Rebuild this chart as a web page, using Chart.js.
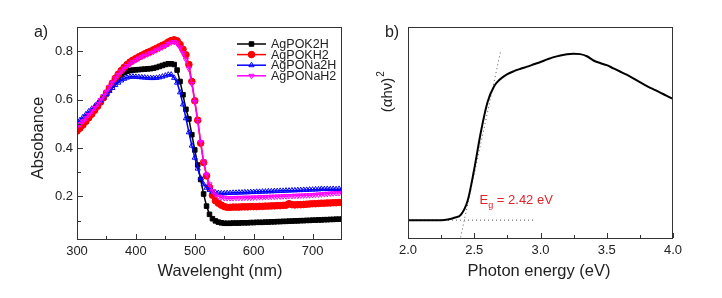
<!DOCTYPE html>
<html>
<head>
<meta charset="utf-8">
<script src="https://cdn.jsdelivr.net/npm/chart.js@4/dist/chart.umd.min.js"></script>
<style>
  html, body { margin: 0; padding: 0; background: #fff; }
  #wrap { position: relative; width: 722px; height: 298px; }
  .panel { position: absolute; top: 0; width: 361px; height: 298px; }
</style>
</head>
<body>
<div id="wrap">
  <div class="panel" style="left:0"><canvas id="chartA" width="361" height="298"></canvas></div>
  <div class="panel" style="left:361px"><canvas id="chartB" width="361" height="298"></canvas></div>
</div>
<script>
// panel a) absorbance spectra
const wavelength = [
  300, 305, 310, 315, 320, 325, 330, 335, 340, 345,
  350, 355, 360, 365, 370, 375, 380, 385, 390, 395,
  400, 405, 410, 415, 420, 425, 430, 435, 440, 445,
  450, 455, 460, 465, 470, 475, 480, 485, 490, 495,
  500, 505, 510, 515, 520, 525, 530, 535, 540, 545,
  550, 555, 560, 565, 570, 575, 580, 585, 590, 595,
  600, 605, 610, 615, 620, 625, 630, 635, 640, 645,
  650, 655, 660, 665, 670, 675, 680, 685, 690, 695,
  700, 705, 710, 715, 720, 725, 730, 735, 740, 745,
  750
];
const agPOK2H = [
  0.472, 0.484, 0.497, 0.511, 0.526, 0.541, 0.557, 0.573, 0.590, 0.607,
  0.624, 0.642, 0.660, 0.676, 0.690, 0.702, 0.711, 0.717, 0.720, 0.722,
  0.723, 0.724, 0.725, 0.726, 0.727, 0.728, 0.730, 0.733, 0.737, 0.741,
  0.745, 0.748, 0.748, 0.745, 0.722, 0.675, 0.620, 0.560, 0.520, 0.455,
  0.392, 0.330, 0.270, 0.210, 0.160, 0.126, 0.108, 0.099, 0.094, 0.091,
  0.089, 0.089, 0.089, 0.090, 0.090, 0.090, 0.091, 0.091, 0.091, 0.092,
  0.092, 0.093, 0.093, 0.093, 0.094, 0.094, 0.095, 0.095, 0.096, 0.096,
  0.097, 0.097, 0.098, 0.098, 0.099, 0.099, 0.100, 0.100, 0.101, 0.101,
  0.102, 0.102, 0.103, 0.103, 0.104, 0.104, 0.105, 0.105, 0.106, 0.106,
  0.106
];
const agPOKH2 = [
  0.470, 0.482, 0.495, 0.510, 0.525, 0.540, 0.556, 0.573, 0.590, 0.608,
  0.627, 0.648, 0.668, 0.688, 0.705, 0.720, 0.733, 0.745, 0.755, 0.763,
  0.770, 0.777, 0.783, 0.789, 0.795, 0.800, 0.806, 0.812, 0.818, 0.824,
  0.830, 0.838, 0.844, 0.847, 0.843, 0.828, 0.808, 0.785, 0.745, 0.675,
  0.595, 0.515, 0.420, 0.340, 0.285, 0.238, 0.205, 0.182, 0.172, 0.164,
  0.158, 0.155, 0.155, 0.156, 0.156, 0.156, 0.157, 0.157, 0.157, 0.158,
  0.158, 0.158, 0.159, 0.159, 0.160, 0.160, 0.161, 0.161, 0.162, 0.162,
  0.163, 0.164, 0.170, 0.166, 0.165, 0.166, 0.166, 0.167, 0.168, 0.169,
  0.170, 0.170, 0.171, 0.172, 0.172, 0.173, 0.173, 0.174, 0.174, 0.175,
  0.175
];
const agPONa2H = [
  0.505, 0.515, 0.527, 0.539, 0.551, 0.562, 0.572, 0.584, 0.596, 0.609,
  0.622, 0.636, 0.648, 0.660, 0.670, 0.679, 0.686, 0.691, 0.694, 0.695,
  0.694, 0.693, 0.692, 0.691, 0.690, 0.689, 0.689, 0.690, 0.692, 0.695,
  0.699, 0.703, 0.703, 0.690, 0.670, 0.630, 0.580, 0.523, 0.465, 0.410,
  0.360, 0.315, 0.275, 0.250, 0.236, 0.227, 0.220, 0.216, 0.214, 0.213,
  0.213, 0.214, 0.214, 0.215, 0.215, 0.216, 0.216, 0.217, 0.217, 0.218,
  0.218, 0.219, 0.219, 0.220, 0.220, 0.221, 0.221, 0.222, 0.222, 0.223,
  0.223, 0.224, 0.224, 0.225, 0.225, 0.226, 0.226, 0.227, 0.227, 0.228,
  0.228, 0.229, 0.229, 0.231, 0.230, 0.231, 0.230, 0.231, 0.230, 0.231,
  0.230
];
const agPONaH2 = [
  0.488, 0.498, 0.510, 0.523, 0.537, 0.551, 0.566, 0.582, 0.598, 0.615,
  0.633, 0.652, 0.670, 0.688, 0.703, 0.716, 0.728, 0.739, 0.748, 0.756,
  0.763, 0.770, 0.776, 0.782, 0.787, 0.792, 0.798, 0.804, 0.810, 0.816,
  0.822, 0.830, 0.836, 0.838, 0.832, 0.815, 0.792, 0.765, 0.728, 0.665,
  0.590, 0.512, 0.425, 0.345, 0.290, 0.250, 0.222, 0.208, 0.200, 0.196,
  0.194, 0.193, 0.193, 0.193, 0.194, 0.194, 0.194, 0.195, 0.195, 0.195,
  0.196, 0.196, 0.197, 0.197, 0.198, 0.198, 0.199, 0.199, 0.200, 0.200,
  0.201, 0.201, 0.202, 0.202, 0.203, 0.203, 0.204, 0.204, 0.205, 0.205,
  0.206, 0.207, 0.208, 0.209, 0.210, 0.211, 0.212, 0.213, 0.214, 0.214,
  0.215
];
const seriesNames = ['AgPOK2H', 'AgPOKH2', 'AgPONa2H', 'AgPONaH2'];
const xTicksA = [300, 400, 500, 600, 700];
const xMinorA = [350, 450, 550, 650];
const yTicksA = [0.2, 0.4, 0.6, 0.8];
const yMinorA = [0.1, 0.3, 0.5, 0.7];

// panel b) Tauc plot
const energy = [
  2.00, 2.05, 2.10, 2.15, 2.20, 2.25, 2.30, 2.35, 2.40, 2.45,
  2.50, 2.55, 2.60, 2.65, 2.70, 2.75, 2.80, 2.85, 2.90, 2.95,
  3.00, 3.05, 3.10, 3.15, 3.20, 3.25, 3.30, 3.35, 3.40, 3.45,
  3.50, 3.55, 3.60, 3.65, 3.70, 3.75, 3.80, 3.85, 3.90, 3.95,
  4.00
];
const tauc = [
  0.088, 0.088, 0.088, 0.088, 0.089, 0.089, 0.092, 0.100, 0.115, 0.180,
  0.330, 0.505, 0.645, 0.720, 0.756, 0.778, 0.792, 0.803, 0.813, 0.824,
  0.835, 0.847, 0.858, 0.866, 0.872, 0.874, 0.872, 0.862, 0.842, 0.830,
  0.820, 0.805, 0.790, 0.775, 0.758, 0.740, 0.722, 0.707, 0.692, 0.676,
  0.661
];
const edgeFit = [[2.397, 0.008], [2.70, 0.888]];
const baseFit = [[2.00, 0.089], [2.96, 0.089]];
const xTicksB = [2.0, 2.5, 3.0, 3.5, 4.0];
const xMinorB = [2.25, 2.75, 3.25, 3.75];

Chart.defaults.font.family = "Arial, 'Liberation Sans', sans-serif";
Chart.defaults.color = '#222';

const FONT = "Arial, 'Liberation Sans', sans-serif";

// box round the plot + inward ticks, Origin style
function drawBox(chart, xMaj, xMin, yMaj, yMin) {
  const { ctx, chartArea: a, scales } = chart;
  const l = Math.round(a.left), r = Math.round(a.right), t = Math.round(a.top), b = Math.round(a.bottom);
  ctx.save();
  ctx.fillStyle = '#333';
  ctx.fillRect(l, t, r - l, 1);
  ctx.fillRect(l, b - 1, r - l, 1);
  ctx.fillRect(l, t, 1, b - t);
  ctx.fillRect(r - 1, t, 1, b - t);
  xMaj.forEach(v => ctx.fillRect(Math.round(scales.x.getPixelForValue(v)), b - 6, 1, 5));
  xMin.forEach(v => ctx.fillRect(Math.round(scales.x.getPixelForValue(v)), b - 4, 1, 3));
  yMaj.forEach(v => ctx.fillRect(l + 1, Math.round(scales.y.getPixelForValue(v)), 5, 1));
  yMin.forEach(v => ctx.fillRect(l + 1, Math.round(scales.y.getPixelForValue(v)), 3, 1));
  ctx.restore();
}

function rotText(ctx, text, x, y, size) {
  ctx.save();
  ctx.translate(x, y);
  ctx.rotate(-Math.PI / 2);
  ctx.font = size + 'px ' + FONT;
  ctx.textAlign = 'center';
  ctx.textBaseline = 'middle';
  ctx.fillText(text, 0, 0);
  ctx.restore();
}

const styles = [
  { color: '#000000', pointStyle: 'rect', radius: 3.2, fill: '#000000', rotation: 0 },
  { color: '#ff0000', pointStyle: 'circle', radius: 3.3, fill: '#ff0000', rotation: 0 },
  { color: '#0000ff', pointStyle: 'triangle', radius: 3, fill: 'rgba(255,255,255,0)', rotation: 0 },
  { color: '#ff00ff', pointStyle: 'triangle', radius: 3, fill: 'rgba(255,255,255,0)', rotation: 180 }
];
const seriesA = [agPOK2H, agPOKH2, agPONa2H, agPONaH2];
const drawOrder = [3, 2, 1, 0];

const panelA = {
  id: 'panelA',
  afterDraw(chart) {
    const ctx = chart.ctx;
    drawBox(chart, xTicksA, xMinorA, yTicksA, yMinorA);
    ctx.save();
    ctx.fillStyle = '#222';
    ctx.font = '16px ' + FONT;
    ctx.textAlign = 'center';
    ctx.textBaseline = 'middle';
    ctx.fillText('a)', 41, 33);
    ctx.font = '16.5px ' + FONT;
    ctx.fillText('Wavelenght (nm)', 220, 271);
    rotText(ctx, 'Absobance', 38, 138, 16.5);
    // legend
    ctx.font = '12.5px ' + FONT;
    ctx.textAlign = 'left';
    seriesNames.forEach((name, i) => {
      const s = styles[i];
      const y = 44 + i * 10.6;
      ctx.strokeStyle = s.color;
      ctx.lineWidth = 1.5;
      ctx.beginPath();
      ctx.moveTo(237, y);
      ctx.lineTo(266, y);
      ctx.stroke();
      ctx.fillStyle = s.fill;
      ctx.lineWidth = 1;
      Chart.helpers.drawPoint(ctx, { pointStyle: s.pointStyle, radius: s.radius, rotation: s.rotation, borderWidth: 1 }, 251.5, y);
      ctx.fillStyle = '#222';
      ctx.fillText(name, 271, y + 0.5);
    });
    ctx.restore();
  }
};

new Chart(document.getElementById('chartA'), {
  type: 'line',
  data: {
    datasets: seriesNames.map((name, i) => ({
      label: name,
      data: wavelength.map((w, j) => ({ x: w, y: seriesA[i][j] })),
      borderColor: styles[i].color,
      borderWidth: 1.5,
      pointStyle: styles[i].pointStyle,
      pointRotation: styles[i].rotation,
      pointRadius: styles[i].radius,
      pointBackgroundColor: styles[i].fill,
      pointBorderColor: styles[i].color,
      pointBorderWidth: 1,
      tension: 0,
      order: drawOrder[i]
    }))
  },
  options: {
    responsive: false,
    animation: false,
    devicePixelRatio: 1,
    layout: { padding: { top: 27, right: 19, left: 0, bottom: 0 } },
    plugins: { legend: { display: false }, tooltip: { enabled: false } },
    scales: {
      x: {
        type: 'linear', min: 300, max: 750,
        afterBuildTicks: s => { s.ticks = xTicksA.map(v => ({ value: v })); },
        afterFit: s => { s.height = 58; },
        ticks: { font: { size: 13 }, padding: 4, maxRotation: 0, autoSkip: false, callback: v => String(v) },
        grid: { display: false, drawTicks: false, tickLength: 0 },
        border: { display: false }
      },
      y: {
        type: 'linear', min: 0.02, max: 0.9,
        afterBuildTicks: s => { s.ticks = yTicksA.map(v => ({ value: v })); },
        afterFit: s => { s.width = 77; },
        ticks: { font: { size: 13 }, padding: 4, autoSkip: false, callback: v => v.toFixed(1) },
        grid: { display: false, drawTicks: false, tickLength: 0 },
        border: { display: false }
      }
    }
  },
  plugins: [panelA]
});

const panelB = {
  id: 'panelB',
  afterDraw(chart) {
    const { ctx, scales } = chart;
    drawBox(chart, xTicksB, xMinorB, [], []);
    ctx.save();
    ctx.fillStyle = '#222';
    ctx.font = '16px ' + FONT;
    ctx.textAlign = 'center';
    ctx.textBaseline = 'middle';
    ctx.fillText('b)', 31, 33);
    ctx.font = '16.5px ' + FONT;
    ctx.fillText('Photon energy (eV)', 178, 271);
    // (αhν)^2 rotated
    ctx.translate(27, 92);
    ctx.rotate(-Math.PI / 2);
    ctx.font = '15px ' + FONT;
    const base = '(\u03b1h\u03bd)';
    const w = ctx.measureText(base).width;
    ctx.textAlign = 'left';
    ctx.fillText(base, -w / 2 - 3, 0);
    ctx.font = '10px ' + FONT;
    ctx.fillText('2', w / 2 - 2, -7);
    ctx.restore();
    // band gap label
    ctx.save();
    ctx.fillStyle = '#e3232b';
    ctx.textBaseline = 'alphabetic';
    ctx.textAlign = 'left';
    let x = scales.x.getPixelForValue(2.54);
    const y = scales.y.getPixelForValue(0.165);
    ctx.font = '13px ' + FONT;
    ctx.fillText('E', x, y);
    x += ctx.measureText('E').width;
    ctx.font = '9px ' + FONT;
    ctx.fillText('g', x, y + 4);
    x += ctx.measureText('g').width;
    ctx.font = '13px ' + FONT;
    ctx.fillText(' = 2.42 eV', x, y);
    ctx.restore();
  }
};

new Chart(document.getElementById('chartB'), {
  type: 'line',
  data: {
    datasets: [
      {
        data: energy.map((e, j) => ({ x: e, y: tauc[j] })),
        borderColor: '#000',
        borderWidth: 2,
        pointRadius: 0,
        cubicInterpolationMode: 'monotone'
      },
      {
        data: edgeFit.map(p => ({ x: p[0], y: p[1] })),
        borderColor: '#555',
        borderWidth: 1,
        borderDash: [1, 3],
        pointRadius: 0
      },
      {
        data: baseFit.map(p => ({ x: p[0], y: p[1] })),
        borderColor: '#555',
        borderWidth: 1,
        borderDash: [1, 3],
        pointRadius: 0
      }
    ]
  },
  options: {
    responsive: false,
    animation: false,
    devicePixelRatio: 1,
    layout: { padding: { top: 27, right: 49, left: 0, bottom: 0 } },
    plugins: { legend: { display: false }, tooltip: { enabled: false } },
    scales: {
      x: {
        type: 'linear', min: 2, max: 4,
        afterBuildTicks: s => { s.ticks = xTicksB.map(v => ({ value: v })); },
        afterFit: s => { s.height = 59; },
        ticks: { font: { size: 13 }, padding: 4, maxRotation: 0, autoSkip: false, callback: v => v.toFixed(1) },
        grid: { display: false, drawTicks: false, tickLength: 0 },
        border: { display: false }
      },
      y: {
        type: 'linear', min: 0, max: 1,
        afterFit: s => { s.width = 47; },
        ticks: { display: false },
        grid: { display: false, drawTicks: false, tickLength: 0 },
        border: { display: false }
      }
    }
  },
  plugins: [panelB]
});
</script>
</body>
</html>
